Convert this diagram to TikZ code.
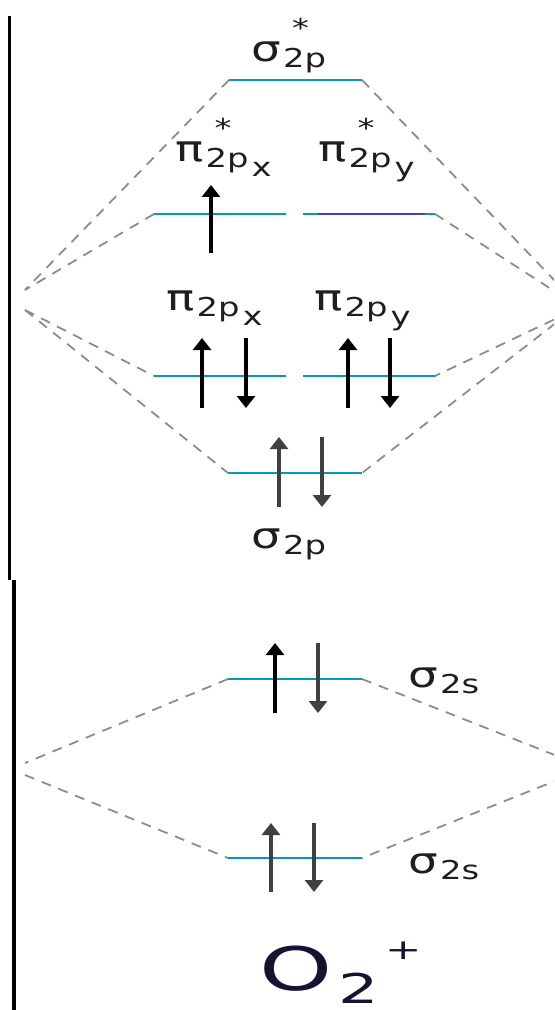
\documentclass[tikz,border=0pt]{standalone}
\usepackage{fontspec}
\usetikzlibrary{arrows.meta}
\newfontfamily\lblfont[FakeStretch=1.3]{DejaVu Sans}
\newfontfamily\ionfont[FakeStretch=1.55]{DejaVu Sans}
\definecolor{lvl}{HTML}{0099BF}
\definecolor{lvlb}{HTML}{3F3FBF}
\definecolor{guide}{HTML}{8C8C8C}
\definecolor{ink}{HTML}{1E1E1E}
\definecolor{spingr}{HTML}{404040}
\definecolor{ionc}{HTML}{141432}
\newcommand{\subsz}{\fontsize{13}{13}\selectfont}
\newcommand{\orb}[3]{#1\hspace{1pt}\raisebox{-3pt}{\subsz #2}\raisebox{-7.5pt}{\subsz\hspace{1.5pt}#3}}
\newcommand{\orbx}[3]{#1\rlap{\hspace{5.5pt}\raisebox{12.3pt}{\fontsize{13}{13}\selectfont *}}\hspace{1pt}\raisebox{-3pt}{\subsz #2}\raisebox{-7.5pt}{\subsz\hspace{1.5pt}#3}}
\tikzset{
  lv/.style   ={draw=lvl,  line width=1pt},
  lvb/.style  ={draw=lvlb, line width=1.3pt},
  gd/.style   ={draw=guide, line width=.9pt, dash pattern=on 5pt off 4pt},
  spin/.style ={draw=black, line width=2.1pt, -{Triangle[width=9pt,length=6pt]}},
  sping/.style={spin, draw=spingr},
  axis/.style ={draw=black, line width=1.7pt},
  lbl/.style  ={anchor=base west, inner sep=0pt, text=ink, font=\lblfont\fontsize{18}{18}\selectfont},
}
\begin{document}
\begin{tikzpicture}[x=0.5pt,y=-0.5pt]
  \useasboundingbox (0,0) rectangle (554,1010);
  \coordinate (sgx-l) at (229,80);  \coordinate (sgx-r) at (362,80);
  \coordinate (pxx-l) at (154,214); \coordinate (pxx-r) at (286,214);
  \coordinate (pyx-l) at (303,214); \coordinate (pyx-r) at (435,214);
  \coordinate (px-l)  at (154,376); \coordinate (px-r)  at (286,376);
  \coordinate (py-l)  at (303,376); \coordinate (py-r)  at (435,376);
  \coordinate (sg-l)  at (228,473); \coordinate (sg-r)  at (362,473);
  \coordinate (ssx-l) at (228,679); \coordinate (ssx-r) at (362,679);
  \coordinate (ss-l)  at (228,858); \coordinate (ss-r)  at (362,858);
  \coordinate (pa-lu) at (25,290);  \coordinate (pa-ld) at (25,310);
  \coordinate (pa-ru) at (582,309); \coordinate (pa-rd) at (570,312);
  \coordinate (sa-lu) at (25,763);  \coordinate (sa-ld) at (25,775);
  \coordinate (sa-ru) at (580,765); \coordinate (sa-rd) at (580,771);
  \draw[axis] (9.5,16) -- (9.5,580);
  \draw[axis] (14,580) -- (14,1010);
  \begin{scope}
    \clip (0,0) rectangle (554,1010);
    \draw[gd] (sgx-l) -- (pa-lu);
    \draw[gd] (pxx-l) -- (pa-lu);
    \draw[gd] (pa-ld) -- (px-l);
    \draw[gd] (pa-ld) -- (sg-l);
    \draw[gd] (sgx-r) -- (pa-ru);
    \draw[gd] (pyx-r) -- (pa-ru);
    \draw[gd] (pa-rd) -- (py-r);
    \draw[gd] (pa-rd) -- (sg-r);
    \draw[gd] (ssx-l) -- (sa-lu);
    \draw[gd] (sa-ld) -- (ss-l);
    \draw[gd] (ssx-r) -- (sa-ru);
    \draw[gd] (sa-rd) -- (ss-r);
  \end{scope}
  \draw[lv] (sgx-l) -- (sgx-r);
  \draw[lv] (pxx-l) -- (pxx-r);
  \draw[lv] (pyx-l) -- (pyx-r);
  \draw[lvb] (318,214) -- (425,214);
  \draw[lv] (px-l) -- (px-r);
  \draw[lv] (py-l) -- (py-r);
  \draw[lv] (sg-l) -- (sg-r);
  \draw[lv] (ssx-l) -- (ssx-r);
  \draw[lv] (ss-l) -- (ss-r);
  \draw[spin]  (211,253) -- (211,185);
  \draw[spin]  (202,408) -- (202,338);
  \draw[spin]  (246,338) -- (246,408);
  \draw[spin]  (348,408) -- (348,338);
  \draw[spin]  (390,338) -- (390,408);
  \draw[sping] (279,507) -- (279,437);
  \draw[sping] (322,437) -- (322,507);
  \draw[spin]  (275,713) -- (275,643);
  \draw[sping] (318,643) -- (318,713);
  \draw[sping] (271,892) -- (271,823);
  \draw[sping] (314,823) -- (314,892);
  \node[lbl] (sgx-t) at (251,62)  {\orbx{σ}{2p}{}};
  \node[lbl] (pxx-t) at (175,162) {\orbx{π}{2p}{x}};
  \node[lbl] (pyx-t) at (318,162) {\orbx{π}{2p}{y}};
  \node[lbl] (px-t)  at (166,310) {\orb{π}{2p}{x}};
  \node[lbl] (py-t)  at (314,310) {\orb{π}{2p}{y}};
  \node[lbl] (sg-t)  at (251,548) {\orb{σ}{2p}{}};
  \node[lbl] (ssx-t) at (408,687) {\orb{σ}{2s}{}};
  \node[lbl] (ss-t)  at (408,873) {\orb{σ}{2s}{}};
  \node[anchor=base west, inner sep=0pt, text=ionc, font=\ionfont] (ion) at (259,990)
    {\fontsize{30}{30}\selectfont O\hspace{3pt}\raisebox{-6.5pt}{\fontsize{20.5}{20.5}\selectfont 2}\hspace{3pt}\raisebox{15.5pt}{\fontsize{14}{14}\selectfont +}};
\end{tikzpicture}
\end{document}
